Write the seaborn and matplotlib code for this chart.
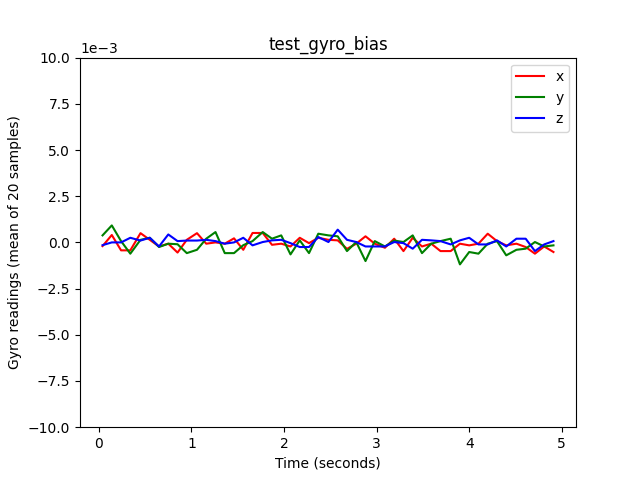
import matplotlib
matplotlib.use('Agg')
import matplotlib.pyplot as plt
import numpy as np
import pandas as pd
import seaborn as sns

# time stamps (seconds)
t = [0.04, 0.14, 0.24, 0.34, 0.45, 0.55, 0.65, 0.75, 0.85, 0.95,
     1.06, 1.16, 1.26, 1.36, 1.46, 1.56, 1.66, 1.77, 1.87, 1.97,
     2.07, 2.17, 2.27, 2.37, 2.48, 2.58, 2.68, 2.78, 2.88, 2.98,
     3.09, 3.19, 3.29, 3.39, 3.49, 3.59, 3.69, 3.80, 3.90, 4.00,
     4.10, 4.20, 4.30, 4.40, 4.51, 4.61, 4.71, 4.81, 4.91]

# gyro readings in units of 1e-3
gx = [-0.20, 0.40, -0.43, -0.43, 0.50, 0.14, -0.22, -0.07, -0.55, 0.14,
      0.50, -0.07, 0.00, -0.07, 0.22, -0.40, 0.51, 0.51, -0.13, -0.07,
      -0.22, 0.25, -0.04, 0.25, 0.14, 0.11, -0.35, -0.07, 0.33, -0.07,
      -0.29, 0.20, -0.47, 0.25, -0.22, -0.07, -0.47, -0.47, -0.07, -0.16,
      -0.07, 0.47, 0.07, -0.16, -0.07, -0.25, -0.61, -0.22, -0.52]
gy = [0.38, 0.92, 0.07, -0.61, 0.14, 0.25, -0.25, -0.07, -0.10, -0.58,
      -0.40, 0.20, 0.56, -0.58, -0.58, -0.15, 0.07, 0.56, 0.20, 0.38,
      -0.65, 0.11, -0.58, 0.47, 0.38, 0.33, -0.47, 0.02, -1.01, 0.07,
      -0.22, 0.10, 0.02, 0.38, -0.58, -0.07, 0.07, 0.20, -1.19, -0.52,
      -0.61, -0.07, 0.07, -0.70, -0.40, -0.34, 0.02, -0.22, -0.16]
gz = [-0.15, 0.00, 0.00, 0.25, 0.10, 0.25, -0.22, 0.43, 0.07, 0.10,
      0.10, 0.14, 0.07, -0.07, 0.00, 0.25, -0.16, 0.02, 0.11, 0.14,
      -0.04, -0.25, -0.25, 0.29, 0.02, 0.69, 0.14, 0.02, -0.22, -0.22,
      -0.22, 0.02, -0.04, -0.34, 0.14, 0.11, 0.07, -0.11, 0.11, 0.25,
      -0.11, -0.11, 0.11, -0.22, 0.20, 0.20, -0.47, -0.11, 0.07]

fig, ax = plt.subplots(figsize=(6.4, 4.8), dpi=100)

for vals, col, lab in [(gx, 'red', 'x'), (gy, 'green', 'y'), (gz, 'blue', 'z')]:
    sns.lineplot(x=t, y=np.array(vals) * 1e-3, color=col, label=lab, ax=ax, linewidth=1.5)

ax.set_ylim(-0.01, 0.01)
ax.ticklabel_format(axis='y', style='sci', scilimits=(-3, -3))
ax.set_title('test_gyro_bias')
ax.set_xlabel('Time (seconds)')
ax.set_ylabel('Gyro readings (mean of 20 samples)')
ax.legend(loc='upper right')

plt.savefig('out.png')
